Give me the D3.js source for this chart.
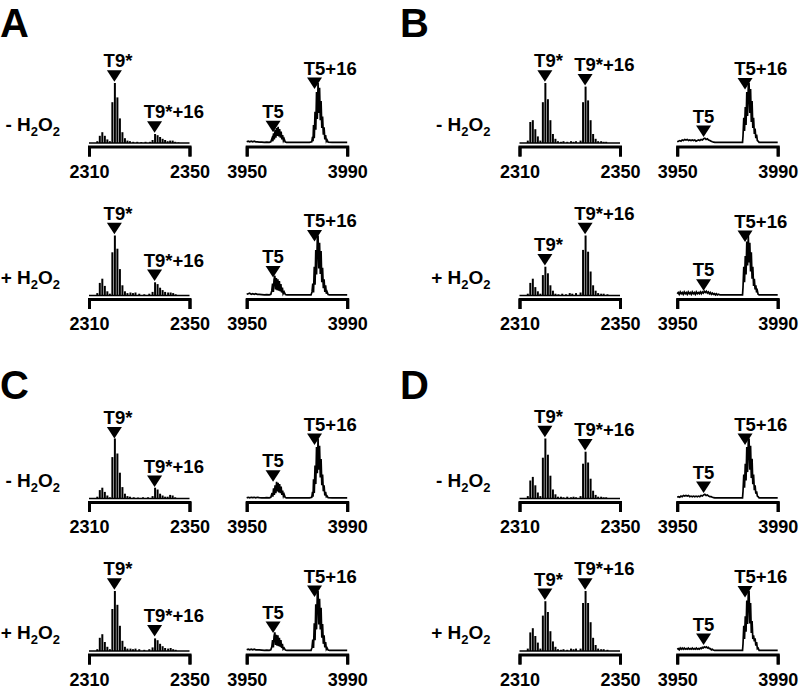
<!DOCTYPE html>
<html><head><meta charset="utf-8">
<script src="https://cdn.jsdelivr.net/npm/d3@7/dist/d3.min.js"></script>
<style>
body{margin:0;background:#fff}
svg{display:block}
text{font-family:"Liberation Sans",Arial,Helvetica,sans-serif;font-weight:bold;fill:#000}
</style>
</head><body>
<svg id="chart" width="800" height="690"></svg>
<script>
// ---------------- DATA ----------------
const panelLetters = ["A", "B", "C", "D"];
const conditionLabels = ["-", "+"];
const t9Ticks = [2310, 2350];
const t5Ticks = [3950, 3990];

// T9* region stick spectra: [m/z, relative intensity]
const A_minus_T9 = [[2313.3,3],[2314.3,12],[2315.3,18],[2316.3,12],[2317.3,6],[2318.3,3],
  [2319.3,68],[2320.3,100],[2321.3,76],[2322.3,41],[2323.3,18],[2324.3,8],[2325.3,4],[2326.3,3],[2327.6,2],[2329.2,2],[2330.8,1.5],[2332.5,2],[2334.3,2],
  [2335.3,5],[2336.3,15],[2337.3,13],[2338.3,10],[2339.3,7],[2340.3,5],[2341.3,3],[2342.3,4],[2343.3,4],[2344.3,2],[2345.6,1]];
const A_plus_T9 = [[2313.3,4],[2314.3,21],[2315.3,28],[2316.3,16],[2317.3,7],[2318.3,3],
  [2319.3,72],[2320.3,100],[2321.3,78],[2322.3,44],[2323.3,17],[2324.3,7],[2325.3,4],[2326.5,5],[2327.5,4],[2328.5,5],[2330,3],[2332,2],[2334,3],
  [2335.3,6],[2336.3,22],[2337.3,19],[2338.3,13],[2339.3,9],[2340.3,6],[2341.5,5],[2342.5,5],[2343.5,4],[2344.5,2]];
const B_minus_T9 = [[2313.3,4],[2314.3,35],[2315.3,38],[2316.3,23],[2317.3,11],[2318.3,4],
  [2319.3,68],[2320.3,100],[2321.3,73],[2322.3,38],[2323.3,15],[2324.3,7],[2325.3,3],[2326.5,2],[2327.5,3],[2329,2],[2330.5,3],[2331.5,2],[2332.5,3],[2334.3,4],
  [2335.3,68],[2336.3,94],[2337.3,71],[2338.3,38],[2339.3,15],[2340.3,7],[2341.3,3],[2342.5,3],[2343.5,2],[2344.5,2]];
const B_plus_T9 = [[2313.3,3],[2314.3,21],[2315.3,28],[2316.3,14],[2317.3,7],[2318.3,3],
  [2319.3,34],[2320.3,48],[2321.3,37],[2322.3,17],[2323.3,8],[2324.3,3],[2325.5,2],[2327,3],[2328.5,2],[2330,4],[2331,3],[2332.5,4],[2334.3,5],
  [2335.3,76],[2336.3,100],[2337.3,73],[2338.3,40],[2339.3,17],[2340.3,8],[2341.3,4],[2342.5,3],[2343.5,3],[2345,2]];
const C_minus_T9 = [[2313.3,3],[2314.3,14],[2315.3,18],[2316.3,11],[2317.3,5],[2318.3,2],
  [2319.3,69],[2320.3,100],[2321.3,75],[2322.3,43],[2323.3,19],[2324.3,8],[2325.3,4],[2326.3,3],[2327.8,2],[2329.5,1.5],[2331.5,2],[2333.5,2],
  [2335.3,4],[2336.3,18],[2337.3,15],[2338.3,8],[2339.3,5],[2340.3,3],[2341.3,3],[2342.3,6],[2343.3,5],[2344.3,2]];
const C_plus_T9 = [[2313.3,3],[2314.3,22],[2315.3,28],[2316.3,15],[2317.3,7],[2318.3,3],
  [2319.3,70],[2320.3,100],[2321.3,77],[2322.3,42],[2323.3,17],[2324.3,7],[2325.3,4],[2326.5,4],[2327.5,3],[2328.5,4],[2330,3],[2332,2],[2334,3],
  [2335.3,6],[2336.3,21],[2337.3,18],[2338.3,12],[2339.3,8],[2340.3,5],[2341.5,4],[2342.5,5],[2343.5,3],[2344.5,2]];
const D_minus_T9 = [[2313.3,4],[2314.3,30],[2315.3,36],[2316.3,22],[2317.3,10],[2318.3,4],
  [2319.3,68],[2320.3,100],[2321.3,73],[2322.3,38],[2323.3,15],[2324.3,7],[2325.3,3],[2326.5,3],[2327.5,2],[2329,3],[2330.5,2],[2331.5,3],[2332.5,2],[2334.3,4],
  [2335.3,58],[2336.3,78],[2337.3,60],[2338.3,33],[2339.3,13],[2340.3,6],[2341.3,3],[2342.5,3],[2343.5,2],[2344.5,2]];
const D_plus_T9 = [[2313.3,4],[2314.3,31],[2315.3,38],[2316.3,25],[2317.3,14],[2318.3,4],
  [2319.3,59],[2320.3,83],[2321.3,65],[2322.3,33],[2323.3,16],[2324.3,7],[2325.3,3],[2326.5,2],[2327.5,3],[2329,2],[2330.5,4],[2331.5,3],[2332.5,4],[2334.3,4],
  [2335.3,80],[2336.3,100],[2337.3,80],[2338.3,48],[2339.3,22],[2340.3,10],[2341.3,4],[2342.5,3],[2343.5,3],[2345,2]];

// T5 region profile spectra: [m/z, relative intensity]
const A_minus_T5 = [[3950,2],[3950.6,3],[3951.2,2],[3951.8,3],[3952.4,2],[3953,3],[3953.6,2],[3954.2,2],[3955,1.5],[3956,1.5],[3957,1],[3958,1.5],[3959,1],
  [3959.6,2],[3960.1,8],[3960.4,3],[3960.7,16],[3961,6],[3961.3,22],[3961.6,9],[3961.9,25],[3962.2,12],[3962.5,27],[3962.8,11],[3963.1,23],[3963.4,9],[3963.7,19],[3964,6],[3964.3,13],[3964.6,4],[3964.9,7],[3965.3,2],[3965.8,1],
  [3967,1],[3969,1],[3971,1],[3973,1],[3975,1],[3975.9,2],
  [3976.2,10],[3976.4,3],[3976.6,30],[3976.9,8],[3977.2,52],[3977.5,22],[3977.8,85],[3978.1,40],[3978.4,100],[3978.7,50],[3979,92],[3979.3,38],[3979.6,70],[3979.9,25],[3980.2,44],[3980.5,14],[3980.8,26],[3981.1,6],[3981.4,13],[3981.7,3],[3982,5],[3982.4,1.5],
  [3984,1],[3986,1],[3988,1],[3990,1]];
const A_plus_T5 = [[3950,2],[3950.6,3],[3951.2,4],[3951.8,2],[3952.4,3],[3953,2],[3953.6,3],[3954.2,2],[3955,2],[3956,1.5],[3957,1],[3958,1.5],[3959,1],
  [3959.6,2],[3960,8],[3960.3,20],[3960.6,6],[3960.9,27],[3961.2,33],[3961.5,10],[3961.8,29],[3962.1,9],[3962.4,27],[3962.7,8],[3963,24],[3963.3,7],[3963.6,19],[3963.9,5],[3964.2,13],[3964.5,3],[3964.9,6],[3965.4,1.5],
  [3966,1],[3968,1],[3970,1],[3972,1],[3974,1],[3975.6,1],
  [3976,6],[3976.3,20],[3976.6,5],[3976.9,48],[3977.2,18],[3977.5,76],[3977.8,35],[3978.1,94],[3978.4,100],[3978.7,45],[3979,88],[3979.3,36],[3979.6,74],[3979.9,22],[3980.2,46],[3980.5,12],[3980.8,27],[3981.1,6],[3981.4,17],[3981.7,3],[3982,6],[3982.4,1.5],
  [3983,1],[3985,1],[3987,1],[3990,1]];
const B_minus_T5 = [[3950,2],[3950.5,3],[3951,4],[3951.5,3],[3952,5],[3952.5,4],[3953,6],[3953.5,5],[3954,6],[3954.5,4],[3955,5],[3955.5,4],[3956,5],[3956.5,4],[3957,5],[3957.5,3],[3958,4],[3958.5,5],[3959,4],[3959.5,6],
  [3960,5],[3960.5,7],[3961,8],[3961.5,6],[3962,7],[3962.5,5],[3963,4],[3963.5,3],[3964,2],[3964.5,1.5],[3965,1],
  [3967,1],[3970,1],[3973,1],[3975.5,1],[3976,1],
  [3976.2,12],[3976.5,42],[3976.8,20],[3977.1,60],[3977.4,30],[3977.7,85],[3978,45],[3978.3,95],[3978.6,100],[3978.9,50],[3979.2,90],[3979.5,35],[3979.8,70],[3980.1,25],[3980.4,42],[3980.7,15],[3981,24],[3981.3,8],[3981.6,14],[3981.9,4],[3982.2,3],[3982.6,1],
  [3984,1],[3987,1],[3990,1]];
const B_plus_T5 = [[3950,3],[3950.4,5],[3950.8,2],[3951.2,6],[3951.6,3],[3952,5],[3952.4,2],[3952.8,6],[3953.2,3],[3953.6,5],[3954,2],[3954.4,6],[3954.8,3],[3955.2,5],[3955.6,2],[3956,6],[3956.4,3],[3956.8,5],[3957.2,2],[3957.6,6],
  [3958,3],[3958.4,5],[3958.8,3],[3959.2,6],[3959.6,3],[3960,6],[3960.4,4],[3960.8,7],[3961.2,5],[3961.6,7],[3962,4],[3962.4,6],[3962.8,3],[3963.2,5],[3963.6,2],[3964,4],[3964.4,2],[3964.8,3],[3965.2,1],[3965.6,3],[3966,1],[3966.5,2],[3967,1],
  [3970,1],[3973,1],[3975.5,1],[3976,1],
  [3976.2,14],[3976.5,48],[3976.8,22],[3977.1,66],[3977.4,35],[3977.7,90],[3978,50],[3978.3,100],[3978.6,55],[3978.9,88],[3979.2,40],[3979.5,72],[3979.8,28],[3980.1,48],[3980.4,16],[3980.7,28],[3981,10],[3981.3,17],[3981.6,5],[3981.9,8],[3982.2,2],[3982.6,1],
  [3984,1],[3987,1],[3990,1]];
const C_minus_T5 = [[3950,1],[3950.6,2],[3951.2,1],[3951.8,2],[3952.4,1.5],[3953,2],[3953.6,1],[3954.2,2],[3955,1.5],[3956,1],[3957,1],[3958,1.5],[3959,1],
  [3959.6,2],[3960.1,9],[3960.4,3],[3960.7,17],[3961,6],[3961.3,22],[3961.6,9],[3961.9,28],[3962.2,12],[3962.5,26],[3962.8,10],[3963.1,24],[3963.4,9],[3963.7,20],[3964,6],[3964.3,13],[3964.6,4],[3964.9,7],[3965.3,2],[3965.8,1],
  [3967,1],[3969,1],[3971,1],[3973,1],[3975,1],[3975.9,2],
  [3976.2,11],[3976.4,3],[3976.6,32],[3976.9,9],[3977.2,55],[3977.5,24],[3977.8,86],[3978.1,42],[3978.4,100],[3978.7,48],[3979,88],[3979.3,35],[3979.6,66],[3979.9,22],[3980.2,40],[3980.5,12],[3980.8,22],[3981.1,5],[3981.4,11],[3981.7,3],[3982,4],[3982.4,1.5],
  [3984,1],[3986,1],[3988,1],[3990,1]];
const C_plus_T5 = [[3950,2],[3950.6,3],[3951.2,2],[3951.8,3],[3952.4,2],[3953,3],[3953.6,2],[3954.2,2],[3955,2],[3956,1.5],[3957,1],[3958,1.5],[3959,1],
  [3959.6,2],[3960,7],[3960.3,18],[3960.6,6],[3960.9,25],[3961.2,31],[3961.5,10],[3961.8,27],[3962.1,9],[3962.4,26],[3962.7,8],[3963,22],[3963.3,7],[3963.6,18],[3963.9,5],[3964.2,12],[3964.5,3],[3964.9,5],[3965.4,1.5],
  [3966,1],[3968,1],[3970,1],[3972,1],[3974,1],[3975.6,1],
  [3976,6],[3976.3,19],[3976.6,5],[3976.9,46],[3977.2,18],[3977.5,78],[3977.8,36],[3978.1,95],[3978.4,100],[3978.7,44],[3979,87],[3979.3,36],[3979.6,72],[3979.9,22],[3980.2,45],[3980.5,12],[3980.8,26],[3981.1,6],[3981.4,15],[3981.7,3],[3982,5],[3982.4,1.5],
  [3983,1],[3985,1],[3987,1],[3990,1]];
const D_minus_T5 = [[3950,2],[3950.5,3],[3951,2],[3951.5,4],[3952,3],[3952.5,5],[3953,4],[3953.5,5],[3954,4],[3954.5,5],[3955,3],[3955.5,4],[3956,3],[3956.5,4],[3957,3],[3957.5,4],[3958,3],[3958.5,4],[3959,3],[3959.5,5],
  [3960,4],[3960.5,6],[3961,7],[3961.5,5],[3962,6],[3962.5,4],[3963,3],[3963.5,3],[3964,2],[3964.5,1.5],[3965,1],
  [3967,1],[3970,1],[3973,1],[3975.5,1],[3976,1],
  [3976.2,12],[3976.5,40],[3976.8,18],[3977.1,58],[3977.4,30],[3977.7,86],[3978,44],[3978.3,96],[3978.6,100],[3978.9,48],[3979.2,88],[3979.5,34],[3979.8,66],[3980.1,24],[3980.4,40],[3980.7,14],[3981,22],[3981.3,8],[3981.6,12],[3981.9,4],[3982.2,3],[3982.6,1],
  [3984,1],[3987,1],[3990,1]];
const D_plus_T5 = [[3950,3],[3950.4,4],[3950.8,2],[3951.2,5],[3951.6,3],[3952,5],[3952.4,3],[3952.8,5],[3953.2,3],[3953.6,4],[3954,3],[3954.4,5],[3954.8,3],[3955.2,4],[3955.6,3],[3956,5],[3956.4,3],[3956.8,4],[3957.2,3],[3957.6,5],
  [3958,3],[3958.4,4],[3958.8,3],[3959.2,5],[3959.6,4],[3960,6],[3960.4,5],[3960.8,7],[3961.2,6],[3961.6,7],[3962,5],[3962.4,6],[3962.8,4],[3963.2,4],[3963.6,2],[3964,3],[3964.4,1.5],[3964.8,1],
  [3967,1],[3970,1],[3973,1],[3975.5,1],[3976,1],
  [3976.2,12],[3976.5,42],[3976.8,20],[3977.1,58],[3977.4,32],[3977.7,84],[3978,45],[3978.3,97],[3978.6,100],[3978.9,46],[3979.2,80],[3979.5,30],[3979.8,50],[3980.1,20],[3980.4,26],[3980.7,16],[3981,21],[3981.3,9],[3981.6,15],[3981.9,4],[3982.2,5],[3982.6,1],
  [3984,1],[3987,1],[3990,1]];

// Peak markers: [label, m/z, intensity level of triangle tip]
const A_minus_T9_marks = [["T9*",2320.1,102],["T9*+16",2336.1,17]];
const A_minus_T5_marks = [["T5",3960.5,18],["T5+16",3977.0,90]];
const A_plus_T9_marks  = [["T9*",2320.1,102],["T9*+16",2336.1,24]];
const A_plus_T5_marks  = [["T5",3960.5,30],["T5+16",3977.0,90]];
const B_minus_T9_marks = [["T9*",2320.1,102],["T9*+16",2336.1,96]];
const B_minus_T5_marks = [["T5",3960.5,10],["T5+16",3977.0,89]];
const B_plus_T9_marks  = [["T9*",2320.1,50],["T9*+16",2336.1,102]];
const B_plus_T5_marks  = [["T5",3960.5,8],["T5+16",3977.0,89]];
const C_minus_T9_marks = [["T9*",2320.1,100],["T9*+16",2336.1,19]];
const C_minus_T5_marks = [["T5",3960.5,28],["T5+16",3977.0,89]];
const C_plus_T9_marks  = [["T9*",2320.1,102],["T9*+16",2336.1,24]];
const C_plus_T5_marks  = [["T5",3960.5,30],["T5+16",3977.0,90]];
const D_minus_T9_marks = [["T9*",2320.1,102],["T9*+16",2336.1,80]];
const D_minus_T5_marks = [["T5",3960.5,9],["T5+16",3977.0,89]];
const D_plus_T9_marks  = [["T9*",2320.1,85],["T9*+16",2336.1,102]];
const D_plus_T5_marks  = [["T5",3960.5,10],["T5+16",3977.0,89]];

// ---------------- DRAWING ----------------
const spectra = {
  A: [{t9:A_minus_T9,t5:A_minus_T5,m9:A_minus_T9_marks,m5:A_minus_T5_marks},{t9:A_plus_T9,t5:A_plus_T5,m9:A_plus_T9_marks,m5:A_plus_T5_marks}],
  B: [{t9:B_minus_T9,t5:B_minus_T5,m9:B_minus_T9_marks,m5:B_minus_T5_marks},{t9:B_plus_T9,t5:B_plus_T5,m9:B_plus_T9_marks,m5:B_plus_T5_marks}],
  C: [{t9:C_minus_T9,t5:C_minus_T5,m9:C_minus_T9_marks,m5:C_minus_T5_marks},{t9:C_plus_T9,t5:C_plus_T5,m9:C_plus_T9_marks,m5:C_plus_T5_marks}],
  D: [{t9:D_minus_T9,t5:D_minus_T5,m9:D_minus_T9_marks,m5:D_minus_T5_marks},{t9:D_plus_T9,t5:D_plus_T5,m9:D_plus_T9_marks,m5:D_plus_T5_marks}]
};

const svg = d3.select("#chart");
const FONT = '"Liberation Sans",Arial,Helvetica,sans-serif';
const specW = 100.5, specH = 60;

const meas = svg.append("text").attr("font-size", 18.5).attr("font-weight", "bold").attr("font-family", FONT).attr("opacity", 0);
function textW(s){ meas.text(s); return meas.node().getComputedTextLength(); }

function drawAxis(g, x, base, ticks){
  const ax = d3.axisBottom(x).tickValues(ticks).tickFormat(d3.format("d"))
    .tickSizeInner(10).tickSizeOuter(10).tickPadding(8.5);
  const a = g.append("g").attr("transform", `translate(0,${base + 3.5})`).call(ax);
  a.attr("font-size", 18).attr("font-family", FONT).attr("font-weight", "bold");
  a.selectAll("path.domain").attr("stroke", "#000").attr("stroke-width", 3).attr("fill", "none");
  a.selectAll(".tick line").attr("stroke", "#000").attr("stroke-width", 3);
  a.selectAll(".tick text").attr("fill", "#000");
}

function drawMarkers(g, x, y, marks){
  marks.forEach(([lab, mz, lvl]) => {
    const tx = x(mz), ty = y(lvl);
    g.append("path").attr("d", `M${tx-7.5},${ty-11.5}L${tx+7.5},${ty-11.5}L${tx},${ty}Z`).attr("fill", "#000");
    const pre = lab.slice(0, 2);
    g.append("text").attr("x", tx - textW(pre) / 2).attr("y", ty - 14.5)
      .attr("font-size", 18.5).text(lab);
  });
}

panelLetters.forEach((p, pi) => {
  const col = pi % 2, row = Math.floor(pi / 2);
  const ox = col * 430.5;
  svg.append("text").attr("x", col ? 400 : 0).attr("y", row ? 399 : 36.5)
    .attr("font-size", 40).text(p);
  spectra[p].forEach((s, ci) => {
    const base = 143 + row * 355.5 + ci * 152.5;
    const g = svg.append("g");
    const t = g.append("text").attr("x", ox + 60).attr("y", base - 12).attr("text-anchor", "end").attr("font-size", 19);
    t.append("tspan").text(conditionLabels[ci] + " H");
    t.append("tspan").attr("font-size", 13).attr("dy", 5).text("2");
    t.append("tspan").attr("dy", -5).text("O");
    t.append("tspan").attr("font-size", 13).attr("dy", 5).text("2");

    const y = d3.scaleLinear().domain([0, 100]).range([base, base - specH]);

    // T9* region, stick spectrum
    const x9 = d3.scaleLinear().domain(t9Ticks).range([ox + 89, ox + 89 + specW]);
    g.append("line").attr("x1", x9.range()[0]).attr("x2", x9.range()[1]).attr("y1", base).attr("y2", base)
      .attr("stroke", "#000").attr("stroke-width", 1.5);
    g.selectAll(null).data(s.t9).enter().append("line")
      .attr("x1", d => x9(d[0])).attr("x2", d => x9(d[0]))
      .attr("y1", base).attr("y2", d => y(d[1]))
      .attr("stroke", "#000").attr("stroke-width", 2);
    drawAxis(g, x9, base, t9Ticks);
    drawMarkers(g, x9, y, s.m9);

    // T5 region, profile spectrum
    const x5 = d3.scaleLinear().domain(t5Ticks).range([ox + 246.7, ox + 246.7 + specW]);
    g.append("path").datum(s.t5)
      .attr("d", d3.line().x(d => x5(d[0])).y(d => y(d[1])))
      .attr("fill", "none").attr("stroke", "#000").attr("stroke-width", 1.7).attr("stroke-linejoin", "miter");
    drawAxis(g, x5, base, t5Ticks);
    drawMarkers(g, x5, y, s.m5);
  });
});
meas.remove();
</script>
</body></html>
